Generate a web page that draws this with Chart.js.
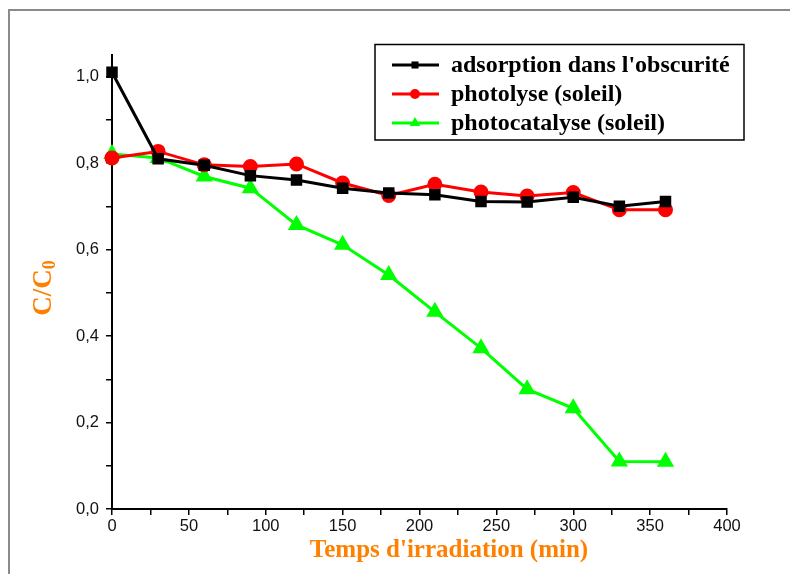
<!DOCTYPE html>
<html>
<head>
<meta charset="utf-8">
<script src="https://cdn.jsdelivr.net/npm/chart.js@4.4.1/dist/chart.umd.min.js"></script>
<style>
  html, body { margin:0; padding:0; background:#fff; }
  #wrap { width:790px; height:574px; }
</style>
</head>
<body>
<div id="wrap"><canvas id="c" width="790" height="574"></canvas></div>
<script>
// data
const times = [0, 30, 60, 90, 120, 150, 180, 210, 240, 270, 300, 330, 360];
const adsorption = [1.01, 0.81, 0.795, 0.771, 0.761, 0.742, 0.731, 0.727, 0.711, 0.710, 0.721, 0.700, 0.711];
const photolyse = [0.812, 0.827, 0.796, 0.792, 0.798, 0.754, 0.725, 0.751, 0.733, 0.724, 0.732, 0.692, 0.692];
const photocatalyse = [0.821, 0.812, 0.769, 0.742, 0.657, 0.611, 0.541, 0.456, 0.372, 0.277, 0.233, 0.110, 0.109];
const seriesNames = ["adsorption dans l'obscurité", 'photolyse (soleil)', 'photocatalyse (soleil)'];
const xTitle = "Temps d'irradiation (min)";

const pts = arr => arr.map((v, i) => ({x: times[i], y: v}));
const ORANGE = '#ff8000';

// frame, axis titles and boxed legend
const decor = {
  id: 'decor',
  afterDraw(chart) {
    const ctx = chart.ctx;
    ctx.save();
    // outer grey frame
    ctx.strokeStyle = '#8a8a8a'; ctx.lineWidth = 2;
    ctx.beginPath(); ctx.moveTo(9, 574); ctx.lineTo(9, 10); ctx.lineTo(790, 10); ctx.stroke();

    // x title
    ctx.fillStyle = ORANGE;
    ctx.font = 'bold 25px "Liberation Serif"';
    ctx.textAlign = 'center'; ctx.textBaseline = 'middle';
    ctx.fillText(xTitle, 449, 551);

    // y title C/C0 with subscript
    ctx.translate(44, 288); ctx.rotate(-Math.PI / 2);
    const main = 'C/C', sub = '0';
    ctx.font = 'bold 27px "Liberation Serif"';
    const wm = ctx.measureText(main).width;
    ctx.font = 'bold 18px "Liberation Serif"';
    const ws = ctx.measureText(sub).width;
    const x0 = -(wm + ws) / 2;
    ctx.textAlign = 'left';
    ctx.font = 'bold 27px "Liberation Serif"';
    ctx.fillText(main, x0, 0);
    ctx.font = 'bold 18px "Liberation Serif"';
    ctx.fillText(sub, x0 + wm, 6);
    ctx.setTransform(1, 0, 0, 1, 0, 0);

    // legend box
    ctx.strokeStyle = '#000'; ctx.lineWidth = 1.5;
    ctx.strokeRect(375, 44.5, 369, 95.5);
    ctx.font = 'bold 24px "Liberation Serif"';
    ctx.textAlign = 'left'; ctx.textBaseline = 'middle';
    chart.data.datasets.forEach((ds, i) => {
      const y = 65 + i * 29;
      ctx.strokeStyle = ds.borderColor; ctx.lineWidth = 3;
      ctx.beginPath(); ctx.moveTo(392, y); ctx.lineTo(439, y); ctx.stroke();
      ctx.fillStyle = ds.pointBackgroundColor;
      Chart.helpers.drawPoint(ctx, {pointStyle: ds.pointStyle, rotation: 0, borderWidth: 0, radius: ds.pointRadius - 1}, 415, y);
      ctx.fillStyle = '#000';
      ctx.fillText(ds.label, 451, y + 1);
    });
    ctx.restore();
  }
};

new Chart(document.getElementById('c'), {
  type: 'line',
  data: {
    datasets: [
      {label: seriesNames[0], data: pts(adsorption), borderColor: '#000', backgroundColor: '#000', clip: false,
       pointBackgroundColor: '#000', pointBorderColor: '#000', pointStyle: 'rect', pointRadius: 6, borderWidth: 3},
      {label: seriesNames[1], data: pts(photolyse), borderColor: '#ff0000', backgroundColor: '#ff0000', clip: false,
       pointBackgroundColor: '#ff0000', pointBorderColor: '#ff0000', pointStyle: 'circle', pointRadius: 6, borderWidth: 3},
      {label: seriesNames[2], data: pts(photocatalyse), borderColor: '#00ff00', backgroundColor: '#00ff00', clip: false,
       pointBackgroundColor: '#00ff00', pointBorderColor: '#00ff00', pointStyle: 'triangle', pointRadius: 7, borderWidth: 3}
    ]
  },
  options: {
    responsive: false,
    animation: false,
    layout: {padding: {top: 55, right: 63, left: 0, bottom: 0}},
    plugins: {legend: {display: false}, tooltip: {enabled: false}},
    elements: {line: {tension: 0}, point: {borderWidth: 0}},
    scales: {
      x: {
        type: 'linear', min: 0, max: 400,
        afterFit: s => { s.height = 65; },
        ticks: {stepSize: 25, autoSkip: false, maxRotation: 0, color: '#111', padding: 2,
                font: {family: '"Liberation Sans"', size: 16.5},
                callback: v => (v % 50 === 0 ? String(v) : '')},
        grid: {drawOnChartArea: false, tickLength: 6, color: '#000', lineWidth: 1.5},
        border: {color: '#000', width: 2}
      },
      y: {
        min: 0, max: 1.05,
        afterFit: s => { s.width = 112; },
        afterBuildTicks: s => { s.ticks = s.ticks.filter(t => t.value <= 1.0001); },
        ticks: {stepSize: 0.1, autoSkip: false, color: '#111', padding: 7,
                font: {family: '"Liberation Sans"', size: 16.5},
                callback: v => (Math.round(v * 10) % 2 === 0 ? v.toFixed(1).replace('.', ',') : '')},
        grid: {drawOnChartArea: false, tickLength: 6, color: '#000', lineWidth: 1.5},
        border: {color: '#000', width: 2}
      }
    }
  },
  plugins: [decor]
});
</script>
</body>
</html>
